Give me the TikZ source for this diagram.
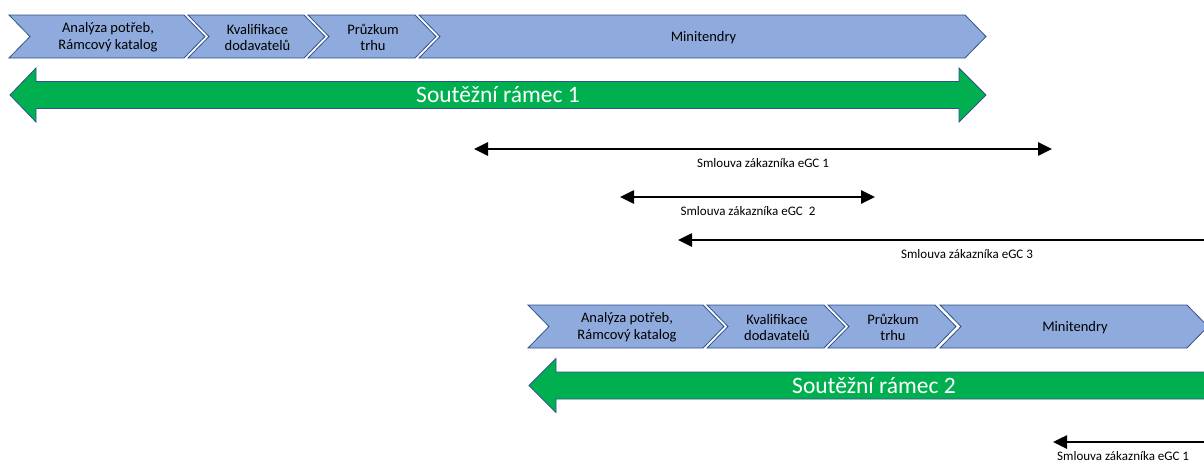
\documentclass[tikz,border=0pt]{standalone}
\usepackage{fontspec}
\setmainfont{Carlito}
\usetikzlibrary{arrows.meta}

\definecolor{stagefill}{HTML}{8FAADC}
\definecolor{stageline}{HTML}{2F528F}
\definecolor{framegreen}{HTML}{00B050}

\tikzset{
  stage/.style={fill=stagefill, draw=stageline, line width=0.8pt, line join=miter},
  stagetext/.style={inner sep=0pt, align=center, text=black,
    font=\fontsize{14.5}{16.7}\selectfont},
  frame/.style={fill=framegreen, draw=stageline, line width=0.8pt},
  frametext/.style={inner sep=0pt, text=white, font=\fontsize{23.5}{28}\selectfont},
  contract/.style={line width=2.6pt, draw=black},
  contracttip/.style={-{Triangle[length=14pt,width=13pt]}},
  bothtips/.style={{Triangle[length=14pt,width=13pt]}-{Triangle[length=14pt,width=13pt]}},
  contracttext/.style={inner sep=0pt, text=black, font=\fontsize{13}{15}\selectfont},
}

% chevron stage: name, left x, right x (tip), centre y, text
\newcommand{\stagebox}[5]{%
  \draw[stage] (#2,#4-21.5) -- (#3-21,#4-21.5) -- (#3,#4) -- (#3-21,#4+21.5)
    -- (#2,#4+21.5) -- (#2+21,#4) -- cycle;
  \node[stagetext] (#1) at ({(#2+#3)/2+1},#4+1) {#5};
}

\begin{document}
\begin{tikzpicture}[x=1pt,y=-1pt]
  \useasboundingbox (0,0) rectangle (1204,461);
  \clip (0,0) rectangle (1204,461);

  % first tender framework: stages
  \stagebox{anaA}{9}{205}{36.5}{Analýza potřeb,\\Rámcový katalog}
  \stagebox{kvaA}{188}{325}{36.5}{Kvalifikace\\dodavatelů}
  \stagebox{pruA}{308}{436}{36.5}{Průzkum\\trhu}
  \stagebox{minA}{419}{986}{36.5}{Minitendry}

  % first tender framework: double arrow
  \draw[frame] (10,95) -- (36,68) -- (36,81.5) -- (959,81.5) -- (959,68)
    -- (986,95) -- (959,122) -- (959,108.5) -- (36,108.5) -- (36,122) -- cycle;
  \node[frametext] (ramA) at (498,95) {Soutěžní rámec 1};

  % customer contracts
  \coordinate (c1a) at (474,149);
  \coordinate (c1b) at (1052,149);
  \draw[contract, bothtips] (c1a) -- (c1b);
  \node[contracttext] (l1) at (763,163) {Smlouva zákazníka eGC 1};

  \coordinate (c2a) at (620,197);
  \coordinate (c2b) at (875,197);
  \draw[contract, bothtips] (c2a) -- (c2b);
  \node[contracttext] (l2) at (748,211) {Smlouva zákazníka eGC\ \ 2};

  \coordinate (c3a) at (678,240);
  \coordinate (c3b) at (1256,240);
  \draw[contract, contracttip] (c3b) -- (c3a);
  \node[contracttext] (l3) at (967,254) {Smlouva zákazníka eGC 3};

  % second tender framework: stages
  \stagebox{anaB}{528}{724}{326.5}{Analýza potřeb,\\Rámcový katalog}
  \stagebox{kvaB}{707}{845}{326.5}{Kvalifikace\\dodavatelů}
  \stagebox{pruB}{828}{956}{326.5}{Průzkum\\trhu}
  \stagebox{minB}{940}{1208}{326.5}{Minitendry}

  % second tender framework: arrow running on past the edge
  \draw[frame] (529,385.5) -- (556,358.5) -- (556,372) -- (1260,372)
    -- (1260,399) -- (556,399) -- (556,412.5) -- cycle;
  \node[frametext] (ramB) at (874,385.5) {Soutěžní rámec 2};

  % next contract under the second framework
  \coordinate (c4a) at (1053,442);
  \coordinate (c4b) at (1300,442);
  \draw[contract, contracttip] (c4b) -- (c4a);
  \node[contracttext, anchor=west] (l4) at (1057,456) {Smlouva zákazníka eGC 1};
\end{tikzpicture}
\end{document}
